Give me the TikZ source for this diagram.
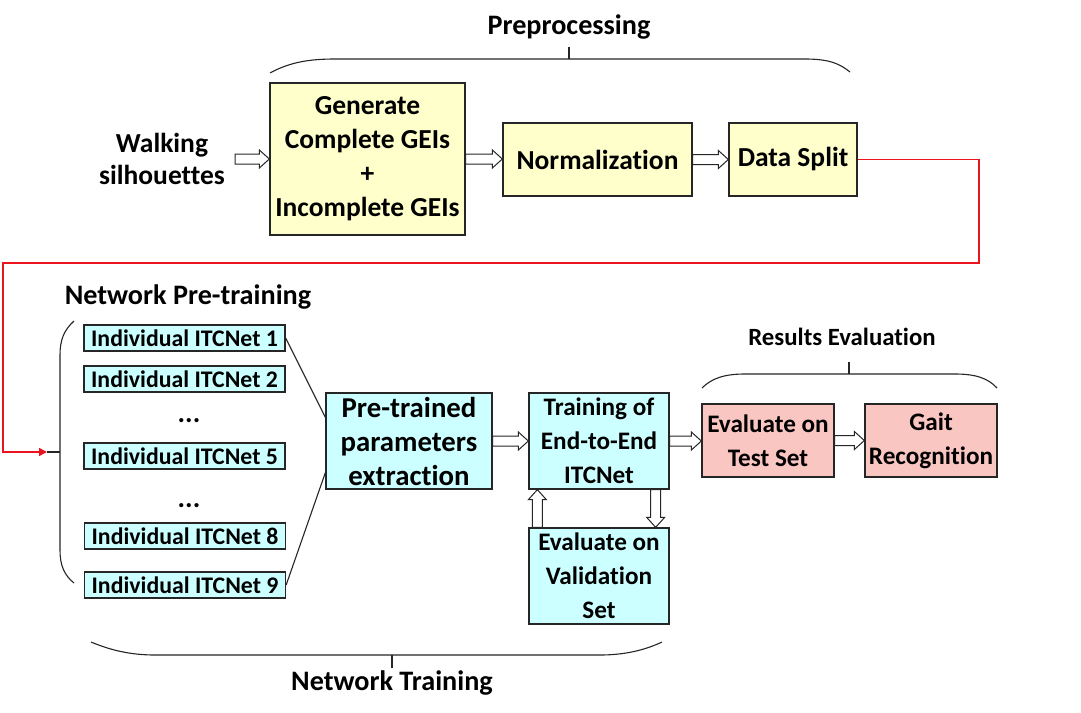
\documentclass[tikz,border=0pt]{standalone}
\usepackage{fontspec}
\setmainfont{Carlito}[Ligatures=NoCommon]
\usetikzlibrary{calc,arrows.meta}
\definecolor{yel}{RGB}{255,255,204}
\definecolor{cyn}{RGB}{204,255,255}
\definecolor{pnk}{RGB}{250,198,194}
\definecolor{redl}{RGB}{235,20,30}
\tikzset{
  box/.style={draw=black!85, line width=1.3pt, align=center, inner sep=0pt, font=\fontsize{27.5}{34}\selectfont\bfseries},
  ybox/.style={box, fill=yel},
  cbox/.style={box, fill=cyn},
  pbox/.style={box, fill=pnk},
  smallf/.style={font=\fontsize{25.2}{34}\selectfont\bfseries},
  sbox/.style={draw=black!85, line width=1.3pt, fill=cyn, inner sep=0pt, minimum width=201pt, minimum height=26pt, font=\fontsize{23.8}{24}\selectfont\bfseries},
  lbl/.style={align=center, inner sep=0pt, font=\fontsize{28.2}{32}\selectfont\bfseries},
  arr/.style={draw=black!85, line width=1pt, fill=white, line join=miter},
  brc/.style={draw=black!85, line width=1.1pt},
  conn/.style={draw=black!85, line width=1.1pt},
}
\newcommand\hollowR[2]{\path[arr] let \p1=(#1), \p2=(#2) in
  (\x1,\y1+5pt) -- (\x2-10pt,\y1+5pt) -- (\x2-10pt,\y1+9pt) -- (\x2,\y1) -- (\x2-10pt,\y1-9pt) -- (\x2-10pt,\y1-5pt) -- (\x1,\y1-5pt) -- cycle;}
\newcommand\hollowU[2]{\path[arr] let \p1=(#1), \p2=(#2) in
  (\x1-5pt,\y1) -- (\x1-5pt,\y2-10pt) -- (\x1-9pt,\y2-10pt) -- (\x1,\y2) -- (\x1+9pt,\y2-10pt) -- (\x1+5pt,\y2-10pt) -- (\x1+5pt,\y1) -- cycle;}
\newcommand\hollowD[2]{\path[arr] let \p1=(#1), \p2=(#2) in
  (\x1-5pt,\y1) -- (\x1-5pt,\y2+10pt) -- (\x1-9pt,\y2+10pt) -- (\x1,\y2) -- (\x1+9pt,\y2+10pt) -- (\x1+5pt,\y2+10pt) -- (\x1+5pt,\y1) -- cycle;}
\begin{document}
\begin{tikzpicture}[x=1pt,y=-1pt]
\useasboundingbox[fill=white] (0,0) rectangle (1081,712);
% top row
\node[align=center, inner sep=0pt, font=\fontsize{27.5}{32}\selectfont\bfseries] (walk) at (162,159) {Walking\\silhouettes};
\node[ybox, minimum width=195pt, minimum height=152pt] (gen) at (367.5,159) {Generate\\Complete GEIs\\+\\Incomplete GEIs};
\node[ybox, minimum width=189pt, minimum height=73pt] (norm) at (597.5,159.5) {Normalization};
\node[ybox, minimum width=128pt, minimum height=73pt] (split) at (793,159.5) {Data Split};
\node[lbl] (pre) at (569,27) {Preprocessing};
\coordinate (ws) at (235,159);
\hollowR{ws}{gen.west}
\hollowR{gen.east}{norm.west}
\hollowR{norm.east}{split.west}
% preprocessing brace
\draw[brc] (270,73) .. controls (290,62) and (310,59) .. (335,59) -- (805,59) .. controls (830,59) and (840,64) .. (850,72);
\draw[brc] (569,59) -- (569,47);
% red connector
\coordinate (bt) at (47,452);
\draw[draw=redl, line width=1.6pt, -{Triangle[length=8pt,width=8pt]}] (split.east) -| (979,263) -| (3,452) -- (bt);
% network pretraining
\node[lbl] (npt) at (188,297) {Network Pre-training};
\draw[brc] (74,321) .. controls (64,330) and (60,340) .. (60,355) -- (60,550) .. controls (60,565) and (64,575) .. (74,583);
\draw[brc] (bt) -- (60,452);
\node[sbox] (i1) at (184.5,338) {Individual ITCNet 1};
\node[sbox] (i2) at (184.5,379) {Individual ITCNet 2};
\node[lbl] (d1) at (189,421) {...};
\node[sbox] (i5) at (184.5,456) {Individual ITCNet 5};
\node[lbl] (d2) at (189,506) {...};
\node[sbox] (i8) at (185,536) {Individual ITCNet 8};
\node[sbox] (i9) at (185,585) {Individual ITCNet 9};
\node[cbox, minimum width=166pt, minimum height=96pt, font=\fontsize{28.8}{34}\selectfont\bfseries] (ptr) at (409,441) {Pre-trained\\parameters\\extraction};
\draw[conn] (i1.east) -- ($(ptr.north west)+(0,25)$);
\draw[conn] (i9.east) -- ($(ptr.south west)+(0,-17)$);
\node[cbox, smallf, minimum width=140pt, minimum height=96pt] (train) at (599,441) {Training of\\End-to-End\\ITCNet};
\node[cbox, smallf, minimum width=140pt, minimum height=96pt] (val) at (599,576) {Evaluate on\\Validation\\Set};
\node[pbox, smallf, minimum width=132pt, minimum height=73pt] (test) at (768,440.5) {Evaluate on\\Test Set};
\node[pbox, smallf, minimum width=132pt, minimum height=73pt] (gait) at (931,440.5) {Gait\\Recognition};
\hollowR{ptr.east}{train.west}
\hollowR{train.east}{test.west}
\hollowR{test.east}{gait.west}
\coordinate (ua) at ($(val.north west)+(9,0)$);
\coordinate (ub) at ($(train.south west)+(9,0)$);
\coordinate (da) at ($(train.south east)+(-14,0)$);
\coordinate (db) at ($(val.north east)+(-14,0)$);
\hollowU{ua}{ub}
\hollowD{da}{db}
% results evaluation brace
\node[lbl, font=\fontsize{24.8}{32}\selectfont\bfseries] (res) at (842,337) {Results Evaluation};
\draw[brc] (702,388) .. controls (712,378) and (725,374) .. (745,374) -- (955,374) .. controls (975,374) and (988,378) .. (997,388);
\draw[brc] (849,374) -- (849,362);
% network training brace
\draw[brc] (91,642) .. controls (110,650) and (130,655) .. (155,655) -- (600,655) .. controls (625,655) and (645,650) .. (662,642);
\draw[brc] (392,655) -- (392,668);
\node[lbl] (nt) at (392,683) {Network Training};
\end{tikzpicture}
\end{document}
